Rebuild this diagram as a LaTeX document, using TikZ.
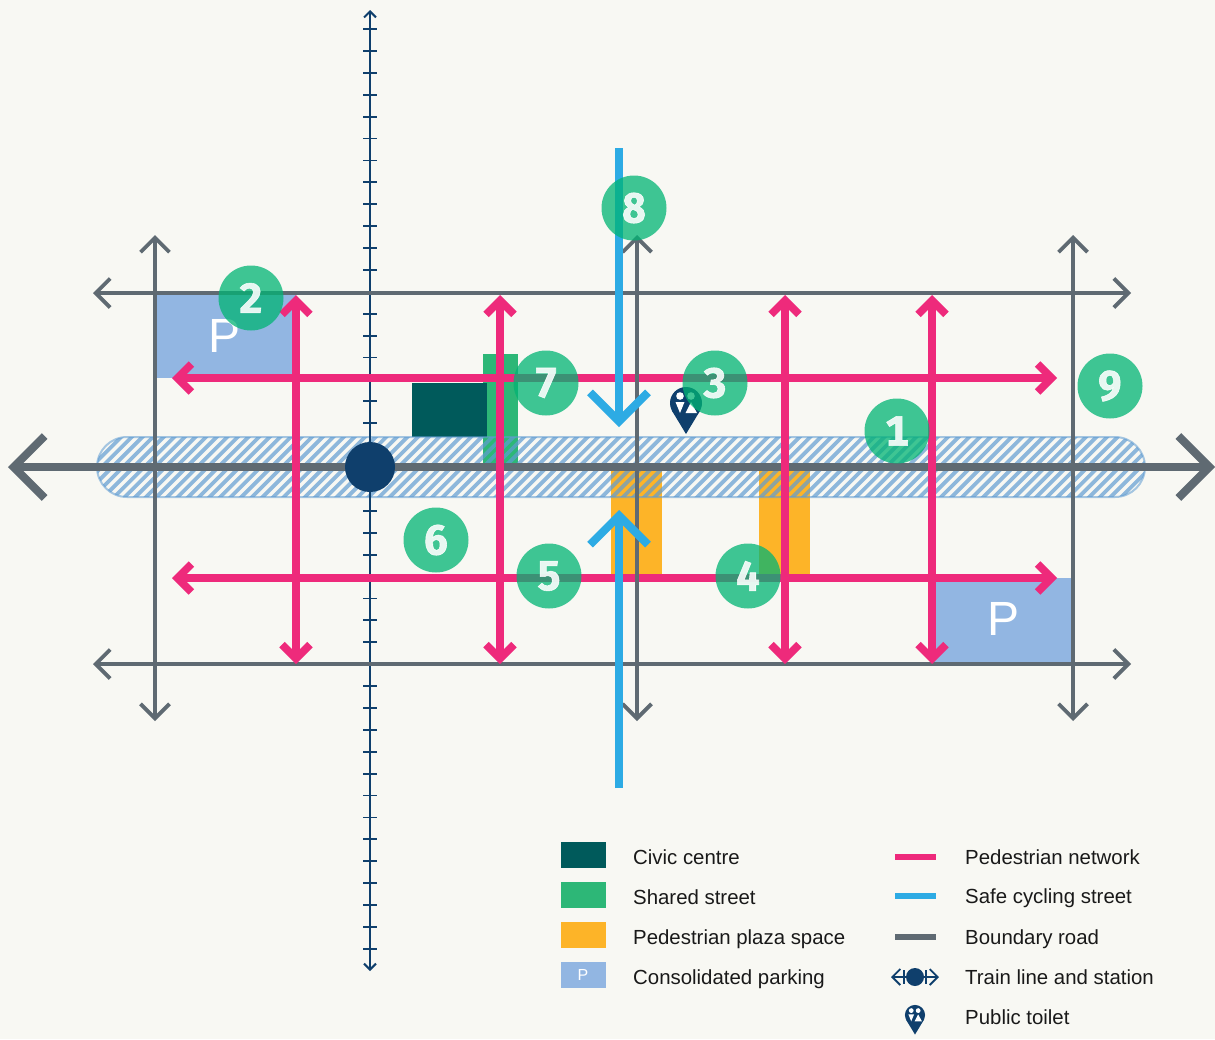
\documentclass[tikz,border=0pt]{standalone}
\usepackage{fontspec}
\setmainfont{Liberation Sans}
\newfontfamily\badgefont[Numbers=Monospaced,BoldFeatures={FakeBold=1.4}]{Fira Sans}
\usepackage{xcolor}
\usetikzlibrary{arrows.meta}

\definecolor{paper}{HTML}{F8F8F3}
\definecolor{road}{HTML}{5F6A72}
\definecolor{pedestrian}{HTML}{EE2A7B}
\definecolor{cycling}{HTML}{2DABE4}
\definecolor{trainline}{HTML}{0F3F6C}
\definecolor{civic}{HTML}{005A5B}
\definecolor{shared}{HTML}{2DB777}
\definecolor{plaza}{HTML}{FDB428}
\definecolor{parking}{HTML}{92B6E2}
\definecolor{hatchblue}{RGB}{96,156,210}
\definecolor{badge}{RGB}{1,180,116}

\pgfdeclarearrow{
	name=Chevron,
	parameters={\the\pgfarrowlength,\the\pgfarrowwidth,\the\pgfarrowlinewidth},
	setup code={
			\pgfarrowssettipend{.707\pgfarrowlinewidth}
			\pgfarrowssetlineend{-.5\pgfarrowlinewidth}
			\pgfarrowssetvisualbackend{-\pgfarrowlength}
			\pgfarrowssetbackend{-\pgfarrowlength}
			\pgfarrowshullpoint{-\pgfarrowlength}{.5\pgfarrowwidth}
			\pgfarrowsupperhullpoint{-\pgfarrowlength}{.5\pgfarrowwidth}
			\pgfarrowshullpoint{.707\pgfarrowlinewidth}{0pt}
			\pgfarrowssavethe\pgfarrowlength
			\pgfarrowssavethe\pgfarrowwidth
			\pgfarrowssavethe\pgfarrowlinewidth
		},
	drawing code={
			\pgfsetdash{}{+0pt}
			\pgfsetmiterjoin
			\pgfsetbuttcap
			\pgfsetlinewidth{\pgfarrowlinewidth}
			\pgfpathmoveto{\pgfqpoint{-\pgfarrowlength}{.5\pgfarrowwidth}}
			\pgfpathlineto{\pgfqpoint{0pt}{0pt}}
			\pgfpathlineto{\pgfqpoint{-\pgfarrowlength}{-.5\pgfarrowwidth}}
			\pgfusepathqstroke
		},
	defaults={length=10pt,width=20pt}
}

\tikzset{
	toiletpin/.pic={
			\fill[trainline] (0,0) circle[radius=16];
			\fill[trainline] (-14.2,7.5) -- (0,31) -- (14.2,7.5) -- cycle;
			\fill[white] (-6,-7) circle[radius=3.8];
			\fill[white] (5,-7) circle[radius=3.8];
			\fill[white] (-10.5,-1) -- (-1.5,-1) -- (-6,10) -- cycle;
			\fill[white] (5,-1) -- (-0.5,10) -- (11,10) -- cycle;
		}
}

\begin{document}
\begin{tikzpicture}
		[
			x=1pt,y=-1pt,
			roadtip/.tip={Chevron[length=14.5pt,width=29pt,line width=3.8pt]},
			walktip/.tip={Chevron[length=14pt,width=28pt,line width=7.7pt]},
			cycletip/.tip={Chevron[length=29pt,width=58pt,line width=8pt]},
			maintip/.tip={Chevron[length=31pt,width=62pt,line width=8pt]},
			traintip/.tip={Chevron[length=6pt,width=12pt,line width=2pt]},
			keytip/.tip={Chevron[length=8pt,width=16pt,line width=1.8pt]},
			boundary/.style={draw=road,line width=3.8pt,roadtip-roadtip},
			walkway/.style={draw=pedestrian,line width=7.7pt,walktip-walktip},
			cycleway/.style={draw=cycling,line width=8pt,-cycletip},
			number/.style={circle,fill=badge,fill opacity=.75,text=white,text opacity=.88,minimum size=65pt,inner sep=0pt,font=\badgefont\bfseries\fontsize{42}{42}\selectfont},
			parkletter/.style={text=white,font=\fontsize{48}{48}\selectfont,inner sep=0pt},
			legendtext/.style={anchor=base west,inner sep=0pt,font=\fontsize{20.4}{24}\selectfont,text=black!90},
			legendline/.style={line width=6.5pt}]
		\useasboundingbox (0,0) rectangle (1215,1039);
		\fill[paper] (0,0) rectangle (1215,1039);

		% blocks under the hatching
		\fill[parking] (155,293) rectangle (296,378);
		\fill[parking] (932,578) rectangle (1073,664);
		\fill[shared] (483,354) rectangle (518,467);
		\fill[civic] (412,383) rectangle (487,437);
		\fill[plaza] (611,471) rectangle (662,575);
		\fill[plaza] (759,471) rectangle (810,575);
		\node[parkletter] (parkA) at (225,336) {P};
		\node[parkletter] (parkB) at (1003,619) {P};

		% hatched band
		\begin{scope}
			\clip[rounded corners=30pt] (97,437) rectangle (1145,497);
			\foreach \x in {37,47.6,...,1145}
				\draw[hatchblue,opacity=.7,line width=3.8pt] (\x,500) -- (\x+66,434);
		\end{scope}
		\draw[hatchblue,opacity=.55,line width=2pt,rounded corners=30pt] (97,437) rectangle (1145,497);

		% train line
		\draw[trainline,line width=2pt,traintip-traintip] (370,10) -- (370,971);
		\foreach \k in {-10,...,32}
			\draw[trainline,line width=1.8pt] (363,248+21.9*\k) -- (377,248+21.9*\k);

		\foreach \y in {378,578}
			\draw[walkway] (172,\y) -- (1057,\y);

		% boundary roads
		\foreach \y in {293,664}
			\draw[boundary] (93,\y) -- (1131,\y);
		\foreach \x in {155,637,1073}
			\draw[boundary] (\x,235) -- (\x,721);
		\draw[draw=road,line width=8pt,maintip-maintip] (8,467) -- (1215,467);

		\foreach \x in {296,500,785,932}
			\draw[walkway] (\x,295) -- (\x,664);

		\draw[cycleway] (619,148) -- (619,427);
		\draw[cycleway] (619,788) -- (619,510);

		\node[circle,fill=trainline,minimum size=50pt,inner sep=0pt] (station) at (370,467) {};
		\pic at (686,403) {toiletpin};

		\foreach \x/\y/\num in {897/431/1,251/298/2,715/383/3,748/576/4,549/576/5,436/540/6,546/383/7,634/208/8,1110/386/9}
			\node[number] (badge\num) at (\x,\y) {\num};

		% legend
		\foreach \y/\col/\name in {842/civic/Civic centre,882/shared/Shared street,922/plaza/Pedestrian plaza space,962/parking/Consolidated parking}
			{
				\fill[\col] (561,\y) rectangle (606,\y+26);
				\node[legendtext] at (633,\y+22) {\name};
			}
		\node[text=white,inner sep=0pt,font=\fontsize{16}{16}\selectfont] (parkC) at (583,975) {P};
		\foreach \y/\col/\name in {857/pedestrian/Pedestrian network,896/cycling/Safe cycling street,937/road/Boundary road}
			{
				\draw[\col,legendline] (895,\y) -- (936,\y);
				\node[legendtext] at (965,\y+7) {\name};
			}
		\draw[trainline,line width=1.8pt,keytip-keytip] (891,977) -- (939,977);
		\foreach \x in {904,926}
			\draw[trainline,line width=1.5pt] (\x,970) -- (\x,984);
		\node[circle,fill=trainline,minimum size=18pt,inner sep=0pt] (stationkey) at (915,977) {};
		\node[legendtext] at (965,984) {Train line and station};
		\pic[scale=.63] at (915,1015) {toiletpin};
		\node[legendtext] at (965,1024) {Public toilet};
	\end{tikzpicture}
\end{document}
